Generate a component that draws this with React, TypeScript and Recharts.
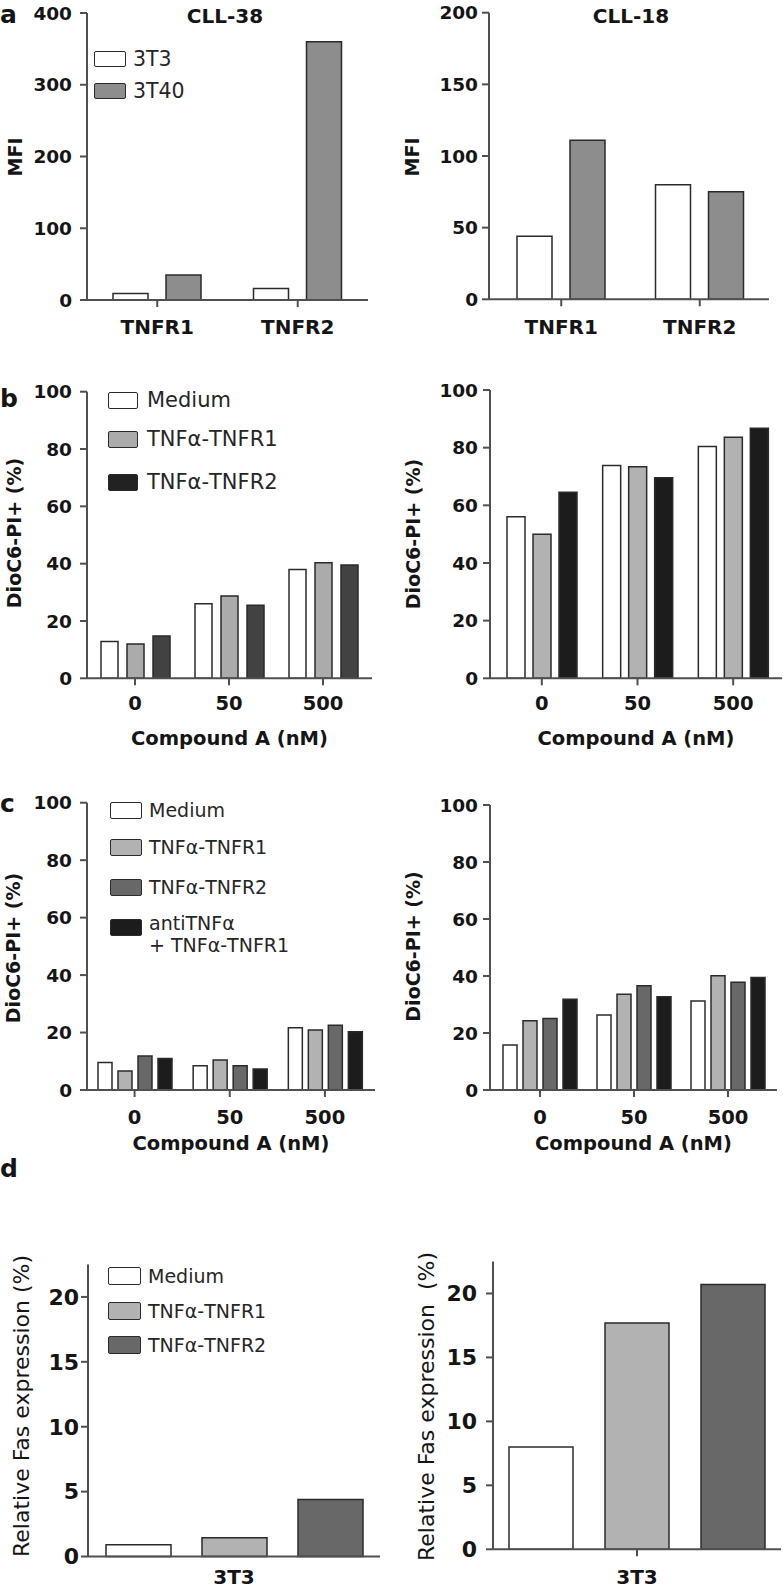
import React from "react";
import { BarChart, Bar, XAxis, YAxis, Legend } from "recharts";

const FONT = "'DejaVu Sans', 'Liberation Sans', Arial, sans-serif";
const INK = "#151515";
const AXIS = "#505050";
const EDGE = "#2b2b2b";

const WHITE = "#ffffff";
const LIGHT = "#b2b2b2";
const MID = "#8d8d8d";
const DARK = "#686868";
const DEEP = "#424242";
const BLACK = "#1c1c1c";

// a: MFI of the TNF receptors
const receptorLabels = ["TNFR1", "TNFR2"];
const cll38With3T3 = [9, 16];
const cll38With3T40 = [35, 360];
const cll18With3T3 = [44, 80];
const cll18With3T40 = [111, 75];

// b / c: compound A dose (nM)
const doseLabels = ["0", "50", "500"];
const bLeftMedium = [12.8, 26, 38];
const bLeftTnfr1 = [12, 28.7, 40.3];
const bLeftTnfr2 = [14.8, 25.5, 39.5];
const bRightMedium = [56, 73.8, 80.4];
const bRightTnfr1 = [50, 73.4, 83.6];
const bRightTnfr2 = [64.5, 69.6, 86.7];

const cLeftMedium = [9.6, 8.4, 21.7];
const cLeftTnfr1 = [6.6, 10.4, 20.9];
const cLeftTnfr2 = [11.8, 8.4, 22.5];
const cLeftAnti = [11, 7.3, 20.3];
const cRightMedium = [15.8, 26.3, 31.2];
const cRightTnfr1 = [24.3, 33.6, 40.1];
const cRightTnfr2 = [25.1, 36.6, 37.8];
const cRightAnti = [31.8, 32.7, 39.5];

// d: relative Fas expression
const cellLabels = ["3T3"];
const dLeftMedium = [0.9];
const dLeftTnfr1 = [1.45];
const dLeftTnfr2 = [4.4];
const dRightMedium = [8.0];
const dRightTnfr1 = [17.7];
const dRightTnfr2 = [20.7];

const mfiTicks38 = [0, 100, 200, 300, 400];
const mfiTicks18 = [0, 50, 100, 150, 200];
const pctTicks = [0, 20, 40, 60, 80, 100];
const fasTicks = [0, 5, 10, 15, 20];

interface Frame {
  x: number; y: number; w: number; h: number;
  left: number; right: number; top: number; bottom: number;
  padL?: number; padR?: number;
}

interface Series { values: number[]; fill: string }

interface LegendItem { lines: string[]; fill: string; dy?: number }

interface LegendSpec {
  items: LegendItem[];
  boxLeft: number;
  centers: number[];
  boxW: number;
  boxH: number;
  textLeft: number;
  fontSize: number;
  lineH: number;
}

interface PanelProps {
  frame: Frame;
  cats: string[];
  series: Series[];
  barSize: number;
  barGap: number;
  yMax: number;
  yTicks: number[];
  yTickFont: number;
  yTickMargin: number;
  xTickFont: number;
  xTickGap: number;
  xTickMark?: boolean;
  yTitle: { text: string; cx: number; cy: number; size: number; weight: number };
  xTitle?: { text: string; cy: number };
  legend?: LegendSpec;
}

const buildRows = (cats: string[], series: Series[]) =>
  cats.map((cat, i) => {
    const row: Record<string, string | number> = { cat };
    series.forEach((s, k) => {
      row["s" + k] = s.values[i];
    });
    return row;
  });

const LegendBlock = ({ spec }: { spec: LegendSpec }) => {
  const top0 = spec.centers[0] - spec.boxH / 2;
  return (
    <div style={{ position: "relative", width: 280, fontFamily: FONT }}>
      {spec.items.map((it, i) => {
        const c = spec.centers[i];
        return (
          <React.Fragment key={i}>
            <div
              style={{
                position: "absolute",
                left: 0,
                top: c - spec.boxH / 2 - top0,
                width: spec.boxW,
                height: spec.boxH,
                background: it.fill,
                border: `1.6px solid ${EDGE}`,
                borderRadius: 2,
                boxSizing: "border-box",
              }}
            />
            {it.lines.map((line, j) => (
              <div
                key={j}
                style={{
                  position: "absolute",
                  left: spec.textLeft - spec.boxLeft,
                  top: c + (it.dy ?? 0) + j * spec.lineH - spec.lineH / 2 - top0,
                  height: spec.lineH,
                  lineHeight: `${spec.lineH}px`,
                  fontSize: spec.fontSize,
                  color: "#262626",
                  whiteSpace: "nowrap",
                }}
              >
                {line}
              </div>
            ))}
          </React.Fragment>
        );
      })}
    </div>
  );
};

const Panel = (p: PanelProps) => {
  const f = p.frame;
  const rows = buildRows(p.cats, p.series);
  const margin = { top: f.top - f.y, right: f.x + f.w - f.right, bottom: 0, left: 0 };
  const yWidth = f.left - f.x;
  const xHeight = f.y + f.h - f.bottom;
  const xTickMargin = p.xTickGap - 7 - 0.3455 * p.xTickFont;

  const yTitle = () => {
    const cx = p.yTitle.cx - f.x;
    const cy = p.yTitle.cy - f.y;
    return (
      <text
        x={cx}
        y={cy}
        transform={`rotate(-90 ${cx} ${cy})`}
        textAnchor="middle"
        dominantBaseline="central"
        fontFamily={FONT}
        fontSize={p.yTitle.size}
        fontWeight={p.yTitle.weight}
        fill={INK}
        style={{ whiteSpace: "pre" }}
      >
        {p.yTitle.text}
      </text>
    );
  };

  const xTitle = () =>
    p.xTitle ? (
      <text
        x={(f.left + f.right) / 2 - f.x}
        y={p.xTitle.cy - f.y}
        textAnchor="middle"
        dominantBaseline="central"
        fontFamily={FONT}
        fontSize={19.5}
        fontWeight={700}
        fill={INK}
      >
        {p.xTitle.text}
      </text>
    ) : null;

  const lg = p.legend;
  const lgTop = lg ? lg.centers[0] - lg.boxH / 2 : 0;
  const lgHeight = lg ? lg.centers[lg.centers.length - 1] - lgTop + 40 : 0;

  return (
    <div style={{ position: "absolute", left: f.x, top: f.y }}>
      <BarChart
        width={f.w}
        height={f.h}
        data={rows}
        margin={margin}
        barSize={p.barSize}
        barGap={p.barGap}
      >
        <XAxis
          dataKey="cat"
          height={xHeight}
          interval={0}
          padding={{ left: f.padL ?? 0, right: f.padR ?? 0 }}
          axisLine={{ stroke: AXIS, strokeWidth: 2 }}
          tickLine={p.xTickMark === false ? false : { stroke: AXIS, strokeWidth: 2 }}
          tickSize={7}
          tickMargin={xTickMargin}
          tick={{ fill: INK, fontSize: p.xTickFont, fontWeight: 700, fontFamily: FONT }}
          label={{ content: xTitle }}
        />
        <YAxis
          width={yWidth}
          domain={[0, p.yMax]}
          ticks={p.yTicks}
          interval={0}
          axisLine={{ stroke: AXIS, strokeWidth: 2 }}
          tickLine={{ stroke: AXIS, strokeWidth: 2 }}
          tickSize={7}
          tickMargin={p.yTickMargin}
          tick={{ fill: INK, fontSize: p.yTickFont, fontWeight: 700, fontFamily: FONT }}
          label={{ content: yTitle }}
        />
        {p.series.map((s, k) => (
          <Bar
            key={k}
            dataKey={"s" + k}
            fill={s.fill}
            stroke={EDGE}
            strokeWidth={1.5}
            barSize={p.barSize}
            isAnimationActive={false}
          />
        ))}
        {lg && (
          <Legend
            layout="vertical"
            align="center"
            verticalAlign="middle"
            wrapperStyle={{ left: lg.boxLeft - f.x, top: lgTop - f.y, width: 280, height: lgHeight }}
            content={() => <LegendBlock spec={lg} />}
          />
        )}
      </BarChart>
    </div>
  );
};

const PanelLetter = ({ text, left, baseline }: { text: string; left: number; baseline: number }) => (
  <div
    style={{
      position: "absolute",
      left,
      top: Math.max(2, baseline - 21.2),
      fontSize: 25,
      lineHeight: "25px",
      fontWeight: 700,
      fontFamily: FONT,
      color: INK,
    }}
  >
    {text}
  </div>
);

const ChartTitle = ({ text, cx, cy }: { text: string; cx: number; cy: number }) => (
  <div
    style={{
      position: "absolute",
      left: cx,
      top: cy,
      transform: "translate(-50%, -50%)",
      fontSize: 20,
      lineHeight: "20px",
      fontWeight: 700,
      fontFamily: FONT,
      color: INK,
      whiteSpace: "nowrap",
    }}
  >
    {text}
  </div>
);

const mfiTitle = (cx: number) => ({ text: "MFI", cx, cy: 157, size: 19, weight: 700 });
const dioTitle = (cx: number, cy: number) => ({ text: "DioC6-PI+ (%)", cx, cy, size: 19, weight: 700 });

export default function App() {
  return (
    <div
      style={{
        position: "absolute",
        left: 0,
        top: 0,
        width: 783,
        height: 1591,
        background: "#fff",
        fontFamily: FONT,
        overflow: "hidden",
      }}
    >
      {/* a */}
      <Panel
        frame={{ x: 0, y: 0, w: 390, h: 345, left: 87, right: 368, top: 13, bottom: 300 }}
        cats={receptorLabels}
        series={[
          { values: cll38With3T3, fill: WHITE },
          { values: cll38With3T40, fill: MID },
        ]}
        barSize={35}
        barGap={18}
        yMax={400}
        yTicks={mfiTicks38}
        yTickFont={18.5}
        yTickMargin={8}
        xTickFont={20}
        xTickGap={27}
        yTitle={mfiTitle(15)}
        legend={{
          items: [
            { lines: ["3T3"], fill: WHITE },
            { lines: ["3T40"], fill: MID },
          ],
          boxLeft: 94,
          centers: [59, 91],
          boxW: 32,
          boxH: 16,
          textLeft: 133,
          fontSize: 20.5,
          lineH: 24,
        }}
      />
      <Panel
        frame={{ x: 390, y: 0, w: 393, h: 345, left: 489, right: 769, top: 12.7, bottom: 299.3, padL: 3 }}
        cats={receptorLabels}
        series={[
          { values: cll18With3T3, fill: WHITE },
          { values: cll18With3T40, fill: MID },
        ]}
        barSize={35}
        barGap={18}
        yMax={200}
        yTicks={mfiTicks18}
        yTickFont={18.5}
        yTickMargin={4}
        xTickFont={20}
        xTickGap={27}
        yTitle={mfiTitle(412)}
      />

      {/* b */}
      <Panel
        frame={{ x: 0, y: 350, w: 390, h: 410, left: 87, right: 372, top: 391.7, bottom: 678.3, padL: 1, padR: 2 }}
        cats={doseLabels}
        series={[
          { values: bLeftMedium, fill: WHITE },
          { values: bLeftTnfr1, fill: "#ababab" },
          { values: bLeftTnfr2, fill: DEEP },
        ]}
        barSize={17}
        barGap={9}
        yMax={100}
        yTicks={pctTicks}
        yTickFont={18.5}
        yTickMargin={8}
        xTickFont={19.5}
        xTickGap={24.7}
        yTitle={dioTitle(14, 533)}
        xTitle={{ text: "Compound A (nM)", cy: 738.3 }}
        legend={{
          items: [
            { lines: ["Medium"], fill: WHITE },
            { lines: ["TNFα-TNFR1"], fill: "#ababab" },
            { lines: ["TNFα-TNFR2"], fill: "#222222" },
          ],
          boxLeft: 108,
          centers: [400, 439, 482],
          boxW: 30,
          boxH: 17,
          textLeft: 147,
          fontSize: 21,
          lineH: 24,
        }}
      />
      <Panel
        frame={{ x: 390, y: 350, w: 393, h: 410, left: 490, right: 782, top: 390, bottom: 678.3, padL: 4, padR: 1 }}
        cats={doseLabels}
        series={[
          { values: bRightMedium, fill: WHITE },
          { values: bRightTnfr1, fill: LIGHT },
          { values: bRightTnfr2, fill: BLACK },
        ]}
        barSize={18}
        barGap={8}
        yMax={100}
        yTicks={pctTicks}
        yTickFont={18.5}
        yTickMargin={5}
        xTickFont={19.5}
        xTickGap={24.7}
        yTitle={dioTitle(413, 534)}
        xTitle={{ text: "Compound A (nM)", cy: 738.3 }}
      />

      {/* c */}
      <Panel
        frame={{ x: 0, y: 760, w: 390, h: 400, left: 87, right: 375, top: 802.7, bottom: 1090, padR: 2.5 }}
        cats={doseLabels}
        series={[
          { values: cLeftMedium, fill: WHITE },
          { values: cLeftTnfr1, fill: LIGHT },
          { values: cLeftTnfr2, fill: DARK },
          { values: cLeftAnti, fill: BLACK },
        ]}
        barSize={14}
        barGap={6}
        yMax={100}
        yTicks={pctTicks}
        yTickFont={18.5}
        yTickMargin={8}
        xTickFont={19.5}
        xTickGap={27}
        yTitle={dioTitle(13, 948)}
        xTitle={{ text: "Compound A (nM)", cy: 1143 }}
        legend={{
          items: [
            { lines: ["Medium"], fill: WHITE },
            { lines: ["TNFα-TNFR1"], fill: LIGHT },
            { lines: ["TNFα-TNFR2"], fill: DARK },
            { lines: ["antiTNFα", "+ TNFα-TNFR1"], fill: BLACK, dy: -4 },
          ],
          boxLeft: 110,
          centers: [810, 847, 887, 927],
          boxW: 32,
          boxH: 17,
          textLeft: 149,
          fontSize: 19,
          lineH: 22,
        }}
      />
      <Panel
        frame={{ x: 390, y: 760, w: 393, h: 400, left: 490, right: 777, top: 805, bottom: 1090, padL: 3, padR: 2 }}
        cats={doseLabels}
        series={[
          { values: cRightMedium, fill: WHITE },
          { values: cRightTnfr1, fill: LIGHT },
          { values: cRightTnfr2, fill: DARK },
          { values: cRightAnti, fill: BLACK },
        ]}
        barSize={14}
        barGap={6}
        yMax={100}
        yTicks={pctTicks}
        yTickFont={18.5}
        yTickMargin={5}
        xTickFont={19.5}
        xTickGap={27}
        yTitle={dioTitle(413, 946.5)}
        xTitle={{ text: "Compound A (nM)", cy: 1143 }}
      />

      {/* d */}
      <Panel
        frame={{ x: 0, y: 1160, w: 390, h: 431, left: 88, right: 380, top: 1264.5, bottom: 1556.5 }}
        cats={cellLabels}
        series={[
          { values: dLeftMedium, fill: WHITE },
          { values: dLeftTnfr1, fill: LIGHT },
          { values: dLeftTnfr2, fill: DARK },
        ]}
        barSize={65}
        barGap={31}
        yMax={22.5}
        yTicks={fasTicks}
        yTickFont={22}
        yTickMargin={2}
        xTickFont={20}
        xTickGap={20.2}
        xTickMark={false}
        yTitle={{ text: "Relative Fas expression (%)", cx: 21.7, cy: 1406, size: 22, weight: 400 }}
        legend={{
          items: [
            { lines: ["Medium"], fill: WHITE },
            { lines: ["TNFα-TNFR1"], fill: LIGHT },
            { lines: ["TNFα-TNFR2"], fill: DARK },
          ],
          boxLeft: 108,
          centers: [1276, 1311, 1344.5],
          boxW: 33,
          boxH: 18,
          textLeft: 148,
          fontSize: 19,
          lineH: 22,
        }}
      />
      <Panel
        frame={{ x: 390, y: 1160, w: 393, h: 431, left: 493, right: 781, top: 1261.5, bottom: 1549.3 }}
        cats={cellLabels}
        series={[
          { values: dRightMedium, fill: WHITE },
          { values: dRightTnfr1, fill: LIGHT },
          { values: dRightTnfr2, fill: DARK },
        ]}
        barSize={64}
        barGap={32}
        yMax={22.5}
        yTicks={fasTicks}
        yTickFont={22}
        yTickMargin={9}
        xTickFont={20}
        xTickGap={27.4}
        yTitle={{ text: "Relative Fas expression  (%)", cx: 426, cy: 1406.5, size: 22, weight: 400 }}
      />

      <ChartTitle text="CLL-38" cx={225} cy={15.8} />
      <ChartTitle text="CLL-18" cx={631} cy={15.5} />
      <PanelLetter text="a" left={0} baseline={20} />
      <PanelLetter text="b" left={0} baseline={406.7} />
      <PanelLetter text="c" left={0} baseline={811.7} />
      <PanelLetter text="d" left={0} baseline={1176.7} />
    </div>
  );
}
